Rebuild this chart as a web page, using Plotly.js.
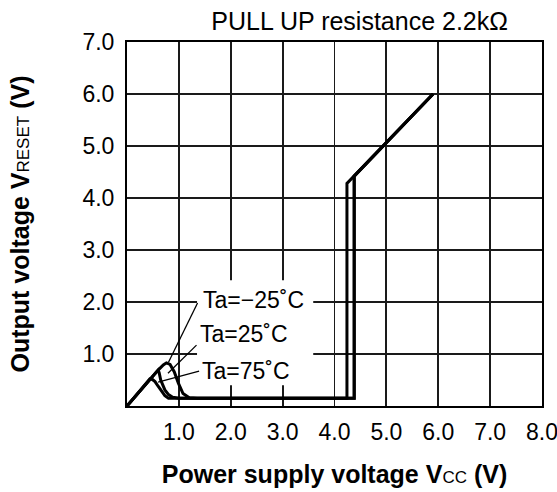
<!DOCTYPE html>
<html>
<head>
<meta charset="utf-8">
<script src="https://cdn.plot.ly/plotly-3.0.1.min.js"></script>
<style>html,body{margin:0;padding:0;background:#fff;}#chart{width:557px;height:492px;}</style>
</head>
<body>
<div id="chart"></div>
<script>
// ---- data ----
const xTickVals = [1, 2, 3, 4, 5, 6, 7, 8];
const xTickText = ['1.0', '2.0', '3.0', '4.0', '5.0', '6.0', '7.0', '8.0'];
const yTickVals = [1, 2, 3, 4, 5, 6, 7];
const yTickText = ['1.0', '2.0', '3.0', '4.0', '5.0', '6.0', '7.0'];

const seriesNames = ['Ta=−25˚C', 'Ta=25˚C', 'Ta=75˚C'];

const vccM25  = [0, 0.2, 0.44, 0.6, 0.7, 0.76, 0.83, 0.91, 0.99, 1.08, 1.2, 1.35, 4.38, 4.38, 5.9];
const voutM25 = [0, 0.23, 0.52, 0.69, 0.79, 0.83, 0.8, 0.66, 0.44, 0.24, 0.16, 0.15, 0.15, 4.42, 6.0];

const vcc25  = [0, 0.2, 0.44, 0.57, 0.6, 0.62, 0.65, 0.73, 0.8, 0.88, 1.0, 4.38, 4.38, 5.9];
const vout25 = [0, 0.23, 0.52, 0.66, 0.69, 0.64, 0.5, 0.31, 0.22, 0.17, 0.15, 0.15, 4.42, 6.0];

const vcc75  = [0, 0.2, 0.44, 0.49, 0.54, 0.6, 0.67, 0.73, 0.8, 4.24, 4.24, 5.9];
const vout75 = [0, 0.23, 0.52, 0.51, 0.47, 0.38, 0.28, 0.2, 0.15, 0.15, 4.28, 6.0];

// label placement and leader lines (data units)
const labelX = [1.43, 1.37, 1.40];
const labelY = [2.04, 1.38, 0.67];
const leaderX0 = [1.36, 1.34, 1.39];
const leaderY0 = [1.98, 1.17, 0.67];
const leaderX1 = [0.8, 0.79, 0.6];
const leaderY1 = [0.84, 0.63, 0.46];
// white box behind labels
const boxX = [1.35, 3.59];
const boxY = [0.40, 2.42];

// ---- chart ----
const FONT = 'Liberation Sans, Arial, Helvetica, sans-serif';
const lineStyle = {color: '#000', width: 3};
const xs = [vccM25, vcc25, vcc75];
const ys = [voutM25, vout25, vout75];
const traces = xs.map((x, i) => ({
  x: x, y: ys[i], type: 'scatter', mode: 'lines', name: seriesNames[i],
  line: lineStyle, hoverinfo: 'skip'
}));

const shapes = [{
  type: 'rect', xref: 'x', yref: 'y', x0: boxX[0], x1: boxX[1], y0: boxY[0], y1: boxY[1],
  fillcolor: '#fff', line: {width: 0}, layer: 'between'
}];
for (let i = 0; i < leaderX0.length; i++) {
  shapes.push({type: 'line', xref: 'x', yref: 'y', x0: leaderX0[i], y0: leaderY0[i],
    x1: leaderX1[i], y1: leaderY1[i], line: {color: '#000', width: 1.3}, layer: 'above'});
}
const annotations = seriesNames.map((t, i) => ({
  x: labelX[i], y: labelY[i], xref: 'x', yref: 'y', text: t, showarrow: false,
  xanchor: 'left', yanchor: 'middle', font: {family: FONT, size: 23, color: '#000'}
}));

const axisCommon = {
  showline: true, mirror: true, linecolor: '#000', linewidth: 2,
  showgrid: true, gridcolor: '#1a1a1a', gridwidth: 1.8,
  zeroline: false, ticks: '', tickmode: 'array', ticklabeloverflow: 'allow',
  tickfont: {family: FONT, size: 23, color: '#000'}, fixedrange: true
};

const layout = {
  width: 557, height: 492,
  margin: {l: 127, r: 15, t: 42, b: 86},
  paper_bgcolor: '#fff', plot_bgcolor: '#fff',
  showlegend: false,
  title: {text: 'PULL UP resistance 2.2kΩ', font: {family: FONT, size: 25, color: '#000'},
    xref: 'container', x: 0.912, xanchor: 'right', yref: 'container', y: 0.957, yanchor: 'middle'},
  xaxis: Object.assign({}, axisCommon, {
    range: [0, 8], tickvals: xTickVals, ticktext: xTickText, ticklabelstandoff: 4,
    title: {text: '<b>Power supply voltage V</b><span style="font-size:17px">CC</span><b> (V)</b>',
      font: {family: FONT, size: 25, color: '#000'}, standoff: 22}
  }),
  yaxis: Object.assign({}, axisCommon, {
    range: [0, 7], tickvals: yTickVals, ticktext: yTickText, ticklabelstandoff: 6,
    title: {text: '<b>Output voltage V</b><span style="font-size:17px">RESET</span><b> (V)</b>',
      font: {family: FONT, size: 25, color: '#000'}, standoff: 46}
  }),
  shapes: shapes,
  annotations: annotations
};

Plotly.newPlot('chart', traces, layout, {displayModeBar: false, staticPlot: true});
</script>
</body>
</html>
